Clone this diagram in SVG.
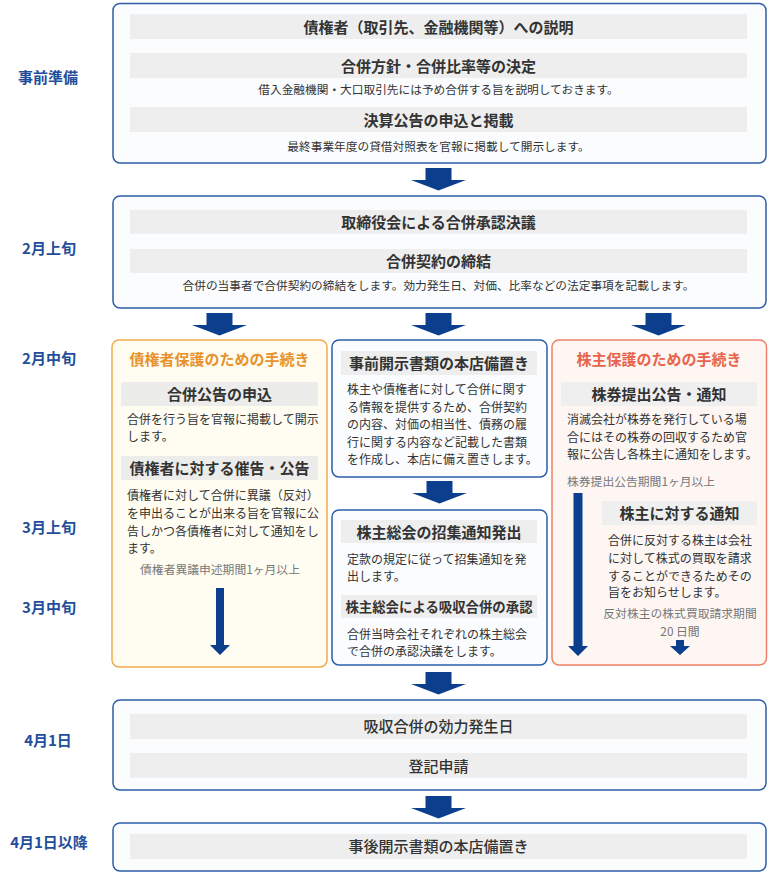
<svg xmlns="http://www.w3.org/2000/svg" xmlns:xlink="http://www.w3.org/1999/xlink" width="768" height="895" viewBox="0 0 768 895">
<style>
text{font-family:"Noto Sans CJK JP","Noto Sans CJK SC",sans-serif;}
.bg{fill:#ffffff;}
.box{fill:#fbfcfe;stroke:#2c5ea8;stroke-width:1.5;}
.boxL{fill:#fffdf2;stroke:#f2aa4c;stroke-width:1.5;}
.boxR{fill:#fdf6f3;stroke:#f0806a;stroke-width:1.5;}
.band{fill:#eeeeee;}
.ttl{font-size:15px;font-weight:bold;fill:#333333;text-anchor:middle;}
.ttlN{font-size:15px;font-weight:500;fill:#333333;text-anchor:middle;}
.sub{font-size:11.7px;fill:#333333;text-anchor:middle;}
.body{font-size:12px;fill:#333333;}
.note{font-size:11.8px;fill:#777777;}
.noteC{font-size:11.8px;fill:#777777;text-anchor:middle;}
.lbl{font-size:15px;font-weight:bold;fill:#1f4e9a;text-anchor:middle;}
.colL{font-size:15px;font-weight:bold;fill:#e8922c;text-anchor:middle;}
.colR{font-size:15px;font-weight:bold;fill:#e8644c;text-anchor:middle;}
.arr{fill:#0b3f8e;}
</style>
<defs>
<path id="bigArrow" d="M-13,0 H13 V12 H27.5 L0,22.5 L-27.5,12 H-13 Z"/>
</defs>
<rect class="bg" x="0" y="0" width="768" height="895"/>

<g id="labels">
<text class="lbl" x="48" y="82.5">事前準備</text>
<text class="lbl" x="49" y="253.5">2月上旬</text>
<text class="lbl" x="49" y="363.5">2月中旬</text>
<text class="lbl" x="49" y="532.5">3月上旬</text>
<text class="lbl" x="49" y="612.5">3月中旬</text>
<text class="lbl" x="48" y="745.5">4月1日</text>
<text class="lbl" x="49" y="847.5">4月1日以降</text>
</g>

<g id="node-preparation">
<rect class="box" x="113" y="3.5" width="653" height="159.5" rx="7"/>
<rect class="band" x="130" y="14" width="617" height="25"/>
<text class="ttl" x="438.5" y="32.5">債権者（取引先、金融機関等）への説明</text>
<rect class="band" x="130" y="53" width="617" height="25"/>
<text class="ttl" x="438.5" y="71.5">合併方針・合併比率等の決定</text>
<text class="sub" x="438.5" y="94">借入金融機関・大口取引先には予め合併する旨を説明しておきます。</text>
<rect class="band" x="130" y="107" width="617" height="25"/>
<text class="ttl" x="438.5" y="125.5">決算公告の申込と掲載</text>
<text class="sub" x="438.5" y="151">最終事業年度の貸借対照表を官報に掲載して開示します。</text>
</g>

<g id="node-board">
<rect class="box" x="113" y="196" width="653" height="112" rx="7"/>
<rect class="band" x="130" y="210" width="617" height="24"/>
<text class="ttl" x="438.5" y="227.5">取締役会による合併承認決議</text>
<rect class="band" x="130" y="249" width="617" height="24"/>
<text class="ttl" x="438.5" y="266.5">合併契約の締結</text>
<text class="sub" x="438.5" y="290">合併の当事者で合併契約の締結をします。効力発生日、対価、比率などの法定事項を記載します。</text>
</g>

<g id="node-creditor">
<rect class="boxL" x="112" y="340" width="215" height="327" rx="7"/>
<text class="colL" x="219.5" y="364.5">債権者保護のための手続き</text>
<rect class="band" x="121" y="382" width="197" height="24" style="fill:#ececea"/>
<text class="ttl" x="219.5" y="399.5">合併公告の申込</text>
<text class="body" x="127" y="424">合併を行う旨を官報に掲載して開示</text>
<text class="body" x="127" y="441">します。</text>
<rect class="band" x="121" y="456" width="197" height="24" style="fill:#ececea"/>
<text class="ttl" x="219.5" y="473.5">債権者に対する催告・公告</text>
<text class="body" x="127" y="500">債権者に対して合併に異議（反対）</text>
<text class="body" x="127" y="518">を申出ることが出来る旨を官報に公</text>
<text class="body" x="127" y="536">告しかつ各債権者に対して通知をし</text>
<text class="body" x="127" y="553">ます。</text>
<text class="noteC" x="220" y="574">債権者異議申述期間1ヶ月以上</text>
</g>

<g id="node-disclosure">
<rect class="box" x="332" y="340" width="215" height="137" rx="7"/>
<rect class="band" x="341" y="351" width="196" height="24"/>
<text class="ttl" x="439" y="368.5">事前開示書類の本店備置き</text>
<text class="body" x="347" y="394">株主や債権者に対して合併に関す</text>
<text class="body" x="347" y="412">る情報を提供するため、合併契約</text>
<text class="body" x="347" y="429">の内容、対価の相当性、債務の履</text>
<text class="body" x="347" y="447">行に関する内容など記載した書類</text>
<text class="body" x="347" y="464">を作成し、本店に備え置きします。</text>
</g>

<g id="node-meeting">
<rect class="box" x="332" y="510" width="215" height="155" rx="7"/>
<rect class="band" x="341" y="520" width="196" height="23"/>
<text class="ttl" x="439" y="537.5">株主総会の招集通知発出</text>
<text class="body" x="347" y="564">定款の規定に従って招集通知を発</text>
<text class="body" x="347" y="581">出します。</text>
<rect class="band" x="341" y="595" width="196" height="23"/>
<text class="ttl" x="439" y="611.5" style="font-size:13.4px">株主総会による吸収合併の承認</text>
<text class="body" x="347" y="639">合併当時会社それぞれの株主総会</text>
<text class="body" x="347" y="656">で合併の承認決議をします。</text>
</g>

<g id="node-shareholder">
<rect class="boxR" x="552" y="340" width="214.5" height="325" rx="7"/>
<text class="colR" x="659" y="364.5">株主保護のための手続き</text>
<rect class="band" x="561" y="382" width="196" height="24" style="fill:#efefef"/>
<text class="ttl" x="659" y="399.5">株券提出公告・通知</text>
<text class="body" x="567" y="424">消滅会社が株券を発行している場</text>
<text class="body" x="567" y="442">合にはその株券の回収するため官</text>
<text class="body" x="567" y="459">報に公告し各株主に通知をします。</text>
<text class="note" x="567" y="486">株券提出公告期間1ヶ月以上</text>
<rect class="band" x="602" y="501" width="155" height="24" style="fill:#efefef"/>
<text class="ttl" x="679.5" y="518.5">株主に対する通知</text>
<text class="body" x="608" y="545">合併に反対する株主は会社</text>
<text class="body" x="608" y="563">に対して株式の買取を請求</text>
<text class="body" x="608" y="581">することができるためその</text>
<text class="body" x="608" y="597">旨をお知らせします。</text>
<text class="noteC" x="680" y="618">反対株主の株式買取請求期間</text>
<text class="noteC" x="680" y="636">20 日間</text>
</g>

<g id="node-effective">
<rect class="box" x="113" y="700" width="653" height="90" rx="7"/>
<rect class="band" x="130" y="714" width="617" height="25"/>
<text class="ttlN" x="438.5" y="731.5">吸収合併の効力発生日</text>
<rect class="band" x="130" y="753" width="617" height="25"/>
<text class="ttlN" x="438.5" y="771.5">登記申請</text>
</g>

<g id="node-postdisclosure">
<rect class="box" x="113" y="823" width="653" height="48" rx="7"/>
<rect class="band" x="130" y="834" width="617" height="25"/>
<text class="ttlN" x="438.5" y="851.5">事後開示書類の本店備置き</text>
</g>

<g id="connectors">
<use xlink:href="#bigArrow" class="arr" x="438.5" y="168"/>
<use xlink:href="#bigArrow" class="arr" x="219.5" y="313"/>
<use xlink:href="#bigArrow" class="arr" x="438.5" y="313"/>
<use xlink:href="#bigArrow" class="arr" x="658.5" y="313"/>
<use xlink:href="#bigArrow" class="arr" x="439.5" y="481"/>
<use xlink:href="#bigArrow" class="arr" x="438.5" y="672"/>
<use xlink:href="#bigArrow" class="arr" x="438.5" y="796"/>
<path class="arr" d="M216,588 H224 V645 H230 L220,655 L210,645 H216 Z"/>
<path class="arr" d="M573.5,493 H582.5 V646 H588 L578,656 L568,646 H573.5 Z"/>
<path class="arr" d="M676,640 H684 V646 H690 L680,655 L670,646 H676 Z"/>
</g>
</svg>
